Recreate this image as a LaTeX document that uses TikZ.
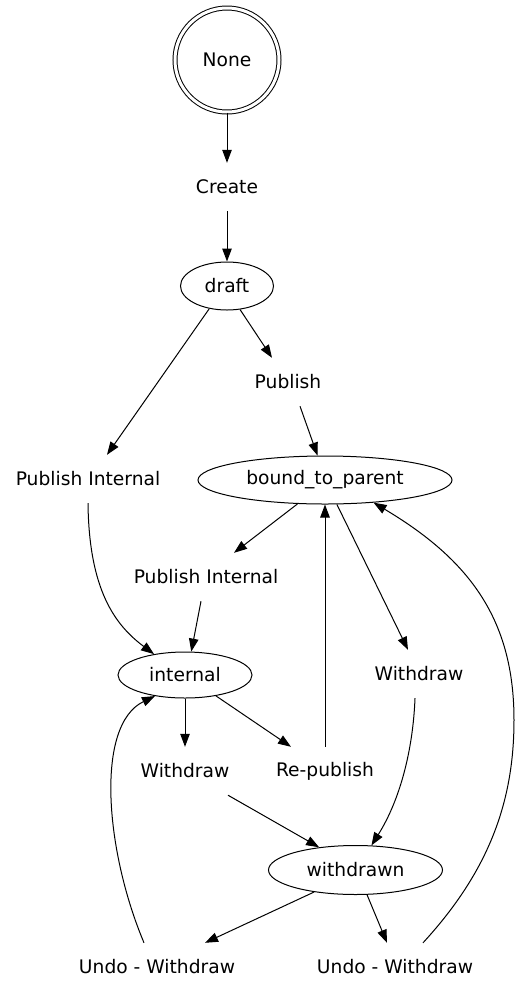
\documentclass[tikz,border=0pt]{standalone}
\usepackage{fontspec}
\setmainfont{DejaVu Sans}
\usetikzlibrary{shapes.geometric,arrows.meta}
\begin{document}
\begin{tikzpicture}[x=1pt,y=-1pt,
  every node/.style={font=\fontsize{18.67}{22}\selectfont},
  state/.style={draw,ellipse,line width=1pt,inner sep=0pt,minimum height=48pt},
  lbl/.style={rectangle,inner sep=0pt,minimum height=48pt,minimum width=72pt},
  edge/.style={line width=1pt,-{Triangle[length=13pt,width=9.5pt]}}]
\useasboundingbox (0,0) rectangle (520,997);
\node[draw,circle,double,double distance=3pt,line width=1pt,minimum size=104pt,inner sep=0pt] (none) at (227,60) {None};
\node[lbl] (create) at (227,187) {Create};
\node[state,minimum width=93pt] (draft) at (227,286) {draft};
\node[lbl] (publish) at (288,382) {Publish};
\node[lbl] (pil) at (88,479) {Publish Internal};
\node[state,minimum width=254pt] (btp) at (325,480) {bound\_to\_parent};
\node[lbl] (pim) at (206,577) {Publish Internal};
\node[state,minimum width=134pt,minimum height=46pt] (internal) at (185,675) {internal};
\node[lbl] (wr) at (419,674) {Withdraw};
\node[lbl] (wm) at (185,771) {Withdraw};
\node[lbl] (rep) at (325,771) {Re-publish};
\node[state,minimum width=174pt,minimum height=49pt] (wdn) at (355.5,870) {withdrawn};
\node[lbl] (uwl) at (157,967) {Undo - Withdraw};
\node[lbl] (uwr) at (395,967) {Undo - Withdraw};

\draw[edge] (none) -- (create.north);
\draw[edge] (create.south) -- (draft.north);
\draw[edge] (draft.-61) -- ([xshift=-16pt]publish.north);
\draw[edge] (draft.-128) -- ([xshift=19pt]pil.north);
\draw[edge] ([xshift=12pt]publish.south) -- (btp.107);
\draw[edge] (pil.south) .. controls (89,590) and (115,625) .. (internal.-214);
\draw[edge] (btp.-139) -- ([xshift=28pt]pim.north);
\draw[edge] ([xshift=-5pt]pim.south) -- (internal.75);
\draw[edge] (btp.-64) -- ([xshift=-11pt]wr.north);
\draw[edge] (rep.north) -- (btp.south);
\draw[edge] ([xshift=28pt]uwr.north) .. controls (490,870) and (514,800) .. (514,720)
   .. controls (514,620) and (470,560) .. (btp.-25.6);
\draw[edge] (internal.south) -- (wm.north);
\draw[edge] (internal.-34) -- ([xshift=-34pt]rep.north);
\draw[edge] ([xshift=43pt]wm.south) -- (wdn.148);
\draw[edge] ([xshift=-4pt]wr.south) .. controls (413,750) and (400,800) .. (wdn.57);
\draw[edge] (wdn.-152) -- ([xshift=48pt]uwl.north);
\draw[edge] (wdn.-65) -- ([xshift=-8pt]uwr.north);
\draw[edge] ([xshift=-13pt]uwl.north) .. controls (105,850) and (95,725) .. (internal.-145.5);
\end{tikzpicture}
\end{document}
